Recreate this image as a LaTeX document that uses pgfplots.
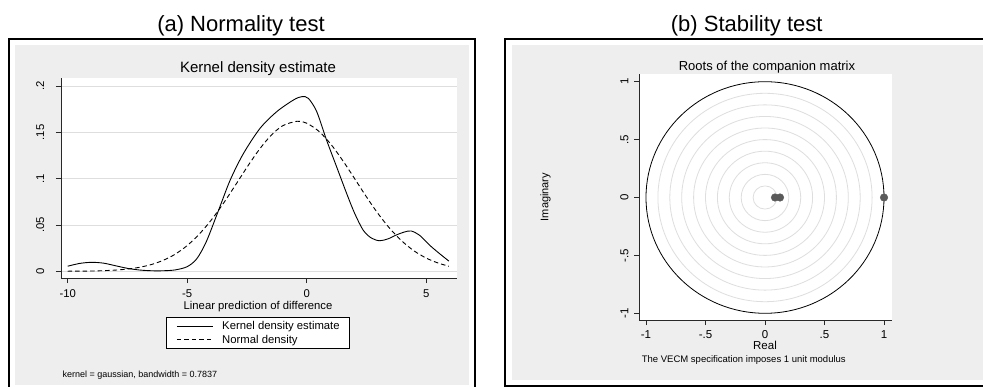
\documentclass[border=0pt]{standalone}
\usepackage{pgfplots}
\pgfplotsset{compat=1.18}
\usepackage{fontspec}
\setmainfont{Liberation Sans}
\definecolor{bggray}{RGB}{238,238,238}
\definecolor{gridgray}{RGB}{222,222,222}
\definecolor{dotgray}{RGB}{90,90,90}
\definecolor{axgray}{RGB}{40,40,40}
\newcommand{\fsz}[1]{\fontsize{#1bp}{#1bp}\selectfont}

\pgfplotstableread{
x y
-10 0.0055
-9.5 0.0085
-9 0.0097
-8.5 0.0088
-8 0.0060
-7.5 0.0032
-7 0.0014
-6.5 0.0006
-6 0.0006
-5.5 0.0015
-5 0.0050
-4.6 0.0135
-4.2 0.0320
-3.7 0.0650
-3.2 0.0985
-2.65 0.1270
-1.95 0.1544
-1.25 0.1724
-0.55 0.1850
-0.2 0.1886
0.07 0.1867
0.42 0.1724
0.83 0.1418
1.25 0.1130
1.67 0.0842
2.0 0.0630
2.36 0.0446
2.7 0.0360
3.05 0.0330
3.4 0.0350
3.75 0.0392
4.1 0.0425
4.375 0.0435
4.72 0.0390
5.14 0.0283
5.55 0.0193
5.95 0.0110
}\kdens

\pgfplotstableread{
x y
-10 0.0001
-9.5 0.0002
-9 0.0003
-8.5 0.0007
-8 0.0013
-7.5 0.0024
-7 0.0043
-6.5 0.0073
-6 0.0119
-5.5 0.0185
-5 0.0278
-4.5 0.0400
-4 0.0551
-3.5 0.0728
-3 0.0923
-2.5 0.1122
-2 0.1309
-1.5 0.1465
-1 0.1572
-0.4 0.1620
0 0.1599
0.5 0.1514
1 0.1376
1.5 0.1199
2 0.1003
2.5 0.0804
3 0.0618
3.5 0.0456
4 0.0323
4.5 0.0219
5 0.0143
5.5 0.0089
5.95 0.0055
}\ndens

\begin{document}
\begin{tikzpicture}
\useasboundingbox (0,0) rectangle (983bp,-387bp);
\clip (0,0) rectangle (983bp,-387bp);
% panel frames
\draw[line width=2bp] (9bp,-39.3bp) rectangle (475bp,-393bp);
\fill[bggray] (15bp,-45bp) rectangle (469bp,-385bp);
\draw[line width=2bp] (505bp,-38.8bp) rectangle (995bp,-386bp);
\fill[bggray] (512bp,-45bp) rectangle (992bp,-380bp);

% ---------- (a) ----------
\begin{axis}[
  at={(61bp,-278bp)}, anchor=south west, scale only axis,
  width=396bp, height=200bp,
  xmin=-10.28, xmax=6.29, ymin=-0.00724, ymax=0.2087,
  axis lines*=left, axis line style={-, line width=0.8bp, axgray},
  axis background/.style={fill=white},
  tick align=outside, major tick length=5bp,
  tick style={line width=0.8bp, axgray},
  xtick={-10,-5,0,5}, xticklabels={-10,-5,0,5},
  ytick={0,0.05,0.1,0.15,0.2}, yticklabels={0,.05,.1,.15,.2},
  ymajorgrids, grid style={gridgray, line width=0.8bp},
  ticklabel style={font=\fsz{11.3}, inner sep=0pt},
  xticklabel style={anchor=base, yshift=-14.3bp},
  yticklabel style={xshift=-12bp, rotate=90, anchor=base},
  legend style={at={(0.4975,-0.195)}, anchor=north, draw=black, line width=0.8bp,
    fill=white, font=\fsz{11.3}, inner xsep=9.7bp, inner ysep=4bp,
    row sep=4bp, column sep=8.4bp, nodes={inner sep=0pt}, cells={anchor=west}},
  legend image code/.code={\draw[#1] (0bp,0bp) -- (36.6bp,0bp);},
]
\addplot[black, line width=0.9bp, smooth, tension=0.5] table[x=x,y=y] {\kdens};
\addlegendentry{Kernel density estimate}
\addplot[black, line width=0.9bp, dash pattern=on 4.5bp off 3bp, smooth, tension=0.5] table[x=x,y=y] {\ndens};
\addlegendentry{Normal density}
\end{axis}

% ---------- (b) ----------
\begin{axis}[
  at={(639bp,-320bp)}, anchor=south west, scale only axis,
  width=253bp, height=246bp,
  xmin=-1.0588, xmax=1.0672, ymin=-1.058, ymax=1.0665,
  axis lines*=left, axis line style={-, line width=0.8bp, axgray},
  axis background/.style={fill=white},
  tick align=outside, major tick length=5bp,
  tick style={line width=0.8bp, axgray},
  xtick={-1,-0.5,0,0.5,1}, xticklabels={-1,-.5,0,.5,1},
  ytick={-1,-0.5,0,0.5,1}, yticklabels={-1,-.5,0,.5,1},
  ticklabel style={font=\fsz{11.5}, inner sep=0pt},
  xticklabel style={anchor=base, yshift=-13.5bp},
  yticklabel style={xshift=-5.7bp, rotate=90, anchor=base},
]
\draw[gridgray, line width=0.8bp] (axis cs:0,0) ellipse [x radius=0.1, y radius=0.1];
\draw[gridgray, line width=0.8bp] (axis cs:0,0) ellipse [x radius=0.2, y radius=0.2];
\draw[gridgray, line width=0.8bp] (axis cs:0,0) ellipse [x radius=0.3, y radius=0.3];
\draw[gridgray, line width=0.8bp] (axis cs:0,0) ellipse [x radius=0.4, y radius=0.4];
\draw[gridgray, line width=0.8bp] (axis cs:0,0) ellipse [x radius=0.5, y radius=0.5];
\draw[gridgray, line width=0.8bp] (axis cs:0,0) ellipse [x radius=0.6, y radius=0.6];
\draw[gridgray, line width=0.8bp] (axis cs:0,0) ellipse [x radius=0.7, y radius=0.7];
\draw[gridgray, line width=0.8bp] (axis cs:0,0) ellipse [x radius=0.8, y radius=0.8];
\draw[gridgray, line width=0.8bp] (axis cs:0,0) ellipse [x radius=0.9, y radius=0.9];
\draw[black, line width=0.8bp] (axis cs:0,0) ellipse [x radius=1, y radius=1];
\addplot[only marks, mark=*, mark size=3.8bp, color=dotgray, mark options={draw=dotgray, fill=dotgray}]
  coordinates {(0.084,0) (0.126,0) (1,0)};
\end{axis}

% ---------- texts ----------
\begin{scope}[every node/.style={inner sep=0pt}]
\node[anchor=base, font=\fsz{22}] at (241bp,-31.5bp) {(a) Normality test};
\node[anchor=base, font=\fsz{15}] at (258bp,-72.3bp) {Kernel density estimate};
\node[anchor=base, font=\fsz{11.3}] at (258bp,-309.3bp) {Linear prediction of difference};
\node[anchor=base west, font=\fsz{9}] at (62.3bp,-377.5bp) {kernel = gaussian, bandwidth = 0.7837};
\node[anchor=base, font=\fsz{22}] at (746.7bp,-31.5bp) {(b) Stability test};
\node[anchor=base, font=\fsz{13}] at (767bp,-70.5bp) {Roots of the companion matrix};
\node[anchor=base, font=\fsz{11.5}] at (765bp,-349.3bp) {Real};
\node[anchor=base, font=\fsz{11}, rotate=90] at (548.3bp,-197bp) {Imaginary};
\node[anchor=base west, font=\fsz{9.5}] at (641.7bp,-362.5bp) {The VECM specification imposes 1 unit modulus};
\end{scope}
\end{tikzpicture}
\end{document}
